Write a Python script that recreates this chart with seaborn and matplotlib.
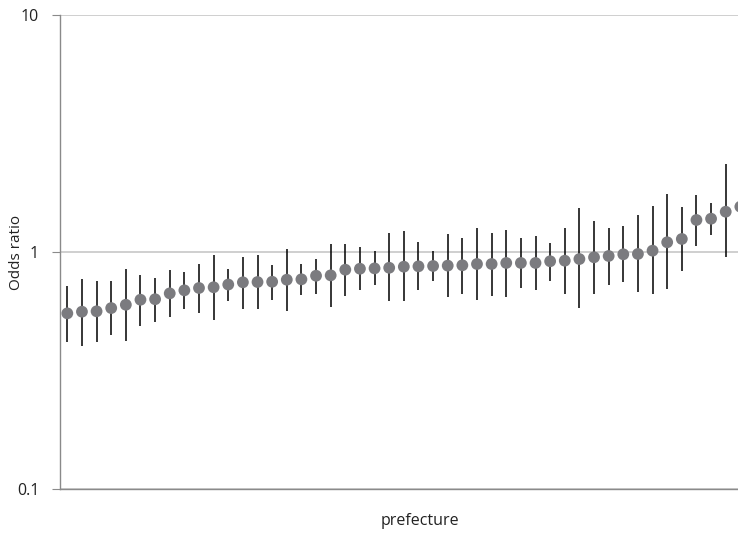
import seaborn as sns
import matplotlib.pyplot as plt
import pandas as pd
from matplotlib.ticker import FixedLocator, NullLocator

# odds ratios per prefecture (sorted), with lower / upper 95% CI
odds = [0.551, 0.560, 0.562, 0.580, 0.599, 0.629, 0.632, 0.669, 0.689, 0.705,
        0.710, 0.729, 0.745, 0.747, 0.749, 0.764, 0.767, 0.794, 0.797, 0.842,
        0.850, 0.853, 0.858, 0.867, 0.870, 0.873, 0.876, 0.879, 0.890, 0.890,
        0.899, 0.899, 0.899, 0.914, 0.919, 0.934, 0.950, 0.962, 0.978, 0.981,
        1.013, 1.099, 1.135, 1.365, 1.382, 1.479, 1.553]
lower = [0.418, 0.402, 0.418, 0.448, 0.422, 0.489, 0.508, 0.533, 0.576, 0.554,
         0.518, 0.623, 0.576, 0.576, 0.629, 0.565, 0.660, 0.667, 0.588, 0.654,
         0.693, 0.728, 0.623, 0.623, 0.693, 0.757, 0.648, 0.667, 0.629, 0.654,
         0.648, 0.707, 0.693, 0.757, 0.667, 0.582, 0.667, 0.728, 0.749, 0.680,
         0.667, 0.700, 0.834, 1.063, 1.183, 0.955, 1.200]
upper = [0.719, 0.769, 0.755, 0.755, 0.848, 0.800, 0.777, 0.840, 0.823, 0.890,
         0.971, 0.848, 0.953, 0.971, 0.882, 1.030, 0.890, 0.934, 1.081, 1.081,
         1.050, 1.010, 1.203, 1.226, 1.102, 1.010, 1.191, 1.146, 1.263, 1.203,
         1.238, 1.146, 1.168, 1.091, 1.263, 1.533, 1.352, 1.263, 1.287, 1.433,
         1.564, 1.757, 1.549, 1.740, 1.610, 2.351, 2.000]

df = pd.DataFrame({'prefecture': range(len(odds)), 'odds': odds,
                   'lower': lower, 'upper': upper})

sns.set_style('white')
plt.rcParams['font.family'] = ['Open Sans', 'DejaVu Sans']

fig = plt.figure(figsize=(7.38, 5.36), dpi=100)
ax = fig.add_axes([60 / 738, 47 / 536, 678 / 738, 474 / 536])

ax.vlines(df['prefecture'], df['lower'], df['upper'], color='black',
          linewidth=1.1, zorder=2)
sns.scatterplot(data=df, x='prefecture', y='odds', ax=ax, s=72,
                color='#7b7b7f', edgecolor='none', zorder=3, legend=False)

ax.set_yscale('log')
ax.set_ylim(0.1, 10)
ax.set_xlim(-0.5, 45.84)
ax.yaxis.set_major_locator(FixedLocator([0.1, 1, 10]))
ax.yaxis.set_minor_locator(NullLocator())
ax.set_yticklabels(['0.1', '1', '10'])
ax.set_xticks([])
ax.grid(axis='y', color='#cfcfcf', linewidth=1.4)
ax.set_axisbelow(True)

for side in ['top', 'right']:
    ax.spines[side].set_visible(False)
for side in ['left', 'bottom']:
    ax.spines[side].set_color('#8a8a8a')
    ax.spines[side].set_linewidth(1.0)

ax.tick_params(axis='y', which='major', length=6, color='#8a8a8a',
               direction='out', left=True, labelsize=11.5, pad=9,
               labelcolor='#222222')
ax.set_xlabel('')
ax.set_ylabel('')
fig.text(17 / 738, 1 - 252 / 536, 'Odds ratio', ha='center', va='center',
         rotation=90, fontsize=11, color='#222222')
fig.text(420 / 738, 1 - 521 / 536, 'prefecture', ha='center', va='center',
         fontsize=11.5, color='#222222')

fig.savefig('out.png', dpi=100)
